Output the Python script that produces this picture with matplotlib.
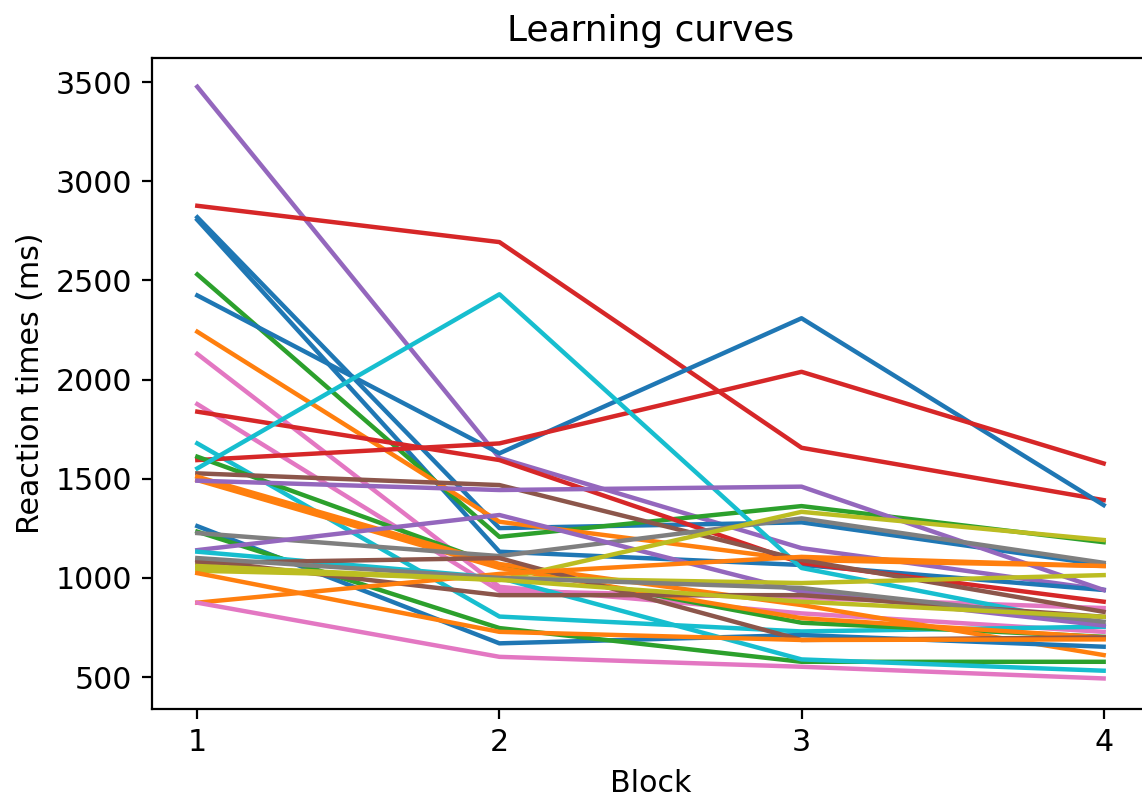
import matplotlib
matplotlib.use("Agg")
import matplotlib.pyplot as plt

# blocks of the experiment
blocks = [1, 2, 3, 4]

# mean reaction time (ms) per block, one list per participant
rt_p01 = [3476, 1605, 1150, 940]
rt_p02 = [2876, 2693, 1656, 1392]
rt_p03 = [2818, 1251, 1280, 1065]
rt_p04 = [2805, 1132, 1065, 939]
rt_p05 = [2530, 1207, 1362, 1180]
rt_p06 = [2424, 1628, 2309, 1367]
rt_p07 = [2241, 1283, 1090, 1060]
rt_p08 = [2129, 955, 821, 728]
rt_p09 = [1876, 935, 900, 848]
rt_p10 = [1838, 1594, 1075, 880]
rt_p11 = [1678, 805, 730, 754]
rt_p12 = [1594, 1678, 2039, 1577]
rt_p13 = [1611, 1060, 774, 703]
rt_p14 = [1552, 2430, 1050, 754]
rt_p15 = [1527, 1468, 1090, 829]
rt_p16 = [1510, 1070, 863, 611]
rt_p17 = [1493, 1050, 797, 700]
rt_p18 = [1490, 1443, 1460, 939]
rt_p19 = [1261, 670, 712, 653]
rt_p20 = [1233, 747, 577, 577]
rt_p21 = [1226, 1110, 1300, 1076]
rt_p22 = [1140, 1317, 930, 760]
rt_p23 = [1132, 1000, 589, 532]
rt_p24 = [1090, 913, 913, 804]
rt_p25 = [1075, 1100, 687, 700]
rt_p26 = [1050, 989, 1333, 1191]
rt_p27 = [1036, 1000, 974, 1014]
rt_p28 = [1024, 728, 687, 690]
rt_p29 = [875, 1020, 1106, 1060]
rt_p30 = [875, 602, 552, 493]
rt_p31 = [1100, 1000, 949, 779]
rt_p32 = [1060, 990, 880, 804]

participants = [rt_p01, rt_p02, rt_p03, rt_p04, rt_p05, rt_p06, rt_p07, rt_p08,
                rt_p09, rt_p10, rt_p11, rt_p12, rt_p13, rt_p14, rt_p15, rt_p16,
                rt_p17, rt_p18, rt_p19, rt_p20, rt_p21, rt_p22, rt_p23, rt_p24,
                rt_p25, rt_p26, rt_p27, rt_p28, rt_p29, rt_p30, rt_p31, rt_p32]

# line colours (matplotlib default cycle names)
line_colors = ["C4", "C3", "C0", "C0", "C2", "C0", "C1", "C6",
               "C6", "C3", "C9", "C3", "C2", "C9", "C5", "C1",
               "C1", "C4", "C0", "C2", "C7", "C4", "C9", "C5",
               "C5", "C8", "C8", "C1", "C1", "C6", "C7", "C8"]

plt.rcParams["font.size"] = 10.8

fig = plt.figure(figsize=(5.71, 3.98), dpi=200)
ax = fig.add_axes([0.1331, 0.1093, 0.8730, 0.8178])

for rts, col in zip(participants, line_colors):
    ax.plot(blocks, rts, color=col, linewidth=1.6)

ax.set_xlim(0.85, 4.15)
ax.set_ylim(339, 3621)
ax.set_xticks(blocks)
ax.spines["right"].set_visible(False)
ax.set_title("Learning curves")
ax.set_xlabel("Block")
ax.set_ylabel("Reaction times (ms)")

fig.savefig("out.png", dpi=200)
plt.close(fig)
